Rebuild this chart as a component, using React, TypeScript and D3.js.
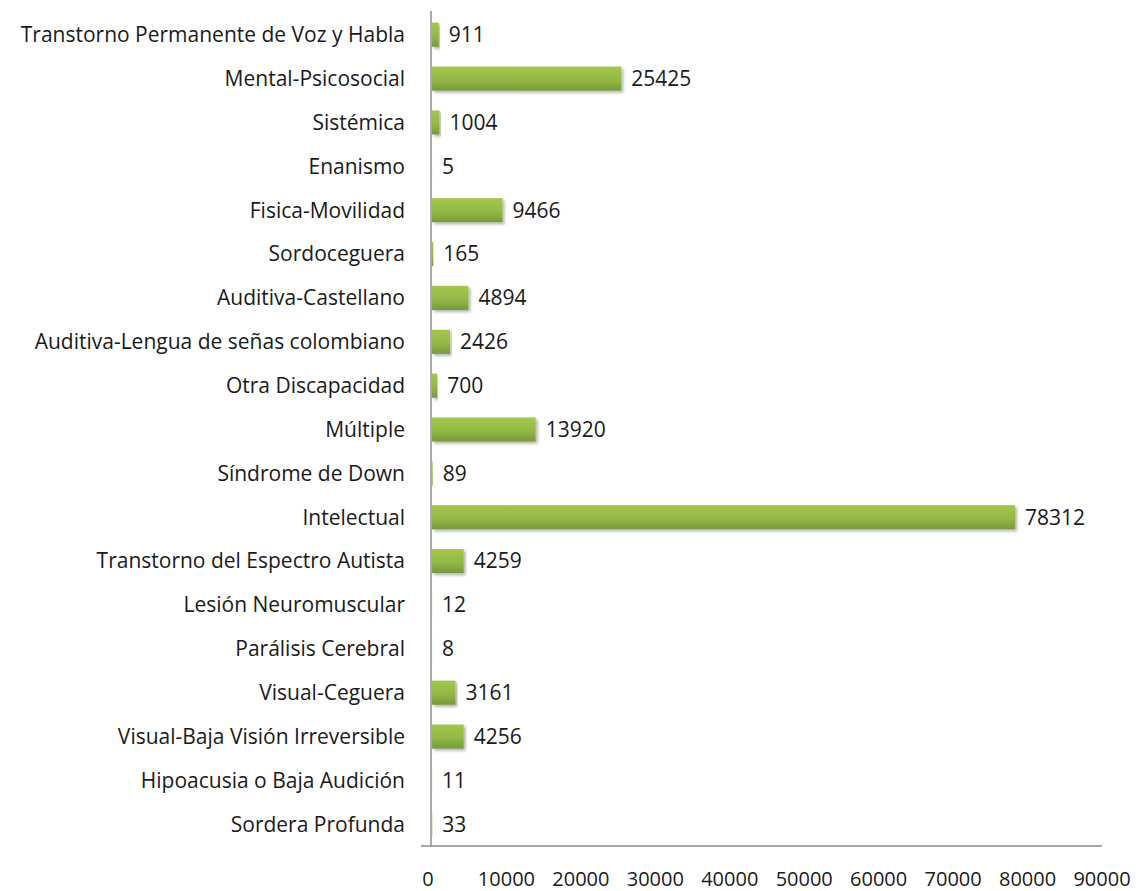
import { useEffect, useRef } from 'react';
import * as d3 from 'd3';

// ── Data (top to bottom as drawn) ──

const categories: string[] = [
  'Transtorno Permanente de Voz y Habla',
  'Mental-Psicosocial',
  'Sistémica',
  'Enanismo',
  'Fisica-Movilidad',
  'Sordoceguera',
  'Auditiva-Castellano',
  'Auditiva-Lengua de señas colombiano',
  'Otra Discapacidad',
  'Múltiple',
  'Síndrome de Down',
  'Intelectual',
  'Transtorno del Espectro Autista',
  'Lesión Neuromuscular',
  'Parálisis Cerebral',
  'Visual-Ceguera',
  'Visual-Baja Visión Irreversible',
  'Hipoacusia o Baja Audición',
  'Sordera Profunda',
];

const values: number[] = [
  911, 25425, 1004, 5, 9466, 165, 4894, 2426, 700, 13920, 89, 78312, 4259, 12, 8, 3161,
  4256, 11, 33,
];

const xTicks: number[] = [0, 10000, 20000, 30000, 40000, 50000, 60000, 70000, 80000, 90000];

// ── Layout ──

const W = 1141;
const H = 891;
const X0 = 432;
const X1 = 1102;
const Y0 = 13;
const Y1 = 846;
const FONT = "'Open Sans', sans-serif";
const FS = '21px';

export default function App() {
  const svgRef = useRef<SVGSVGElement>(null);

  useEffect(() => {
    const svgEl = svgRef.current;
    if (!svgEl) return;
    const svg = d3.select(svgEl);
    svg.selectAll('*').remove();

    const x = d3.scaleLinear().domain([0, 90000]).range([X0, X1]);
    const y = d3
      .scaleBand<string>()
      .domain(categories)
      .range([Y0, Y1])
      .paddingInner(0.45)
      .paddingOuter(0.22);

    const defs = svg.append('defs');
    const grad = defs
      .append('linearGradient')
      .attr('id', 'barGrad')
      .attr('x1', 0)
      .attr('y1', 0)
      .attr('x2', 0)
      .attr('y2', 1);
    grad.append('stop').attr('offset', '0%').attr('stop-color', '#a4c64f');
    grad.append('stop').attr('offset', '55%').attr('stop-color', '#93b947');
    grad.append('stop').attr('offset', '100%').attr('stop-color', '#78993a');

    const shadow = defs
      .append('filter')
      .attr('id', 'shadow')
      .attr('x', '-5%')
      .attr('y', '-30%')
      .attr('width', '115%')
      .attr('height', '180%');
    shadow
      .append('feDropShadow')
      .attr('dx', 2)
      .attr('dy', 2)
      .attr('stdDeviation', 1.5)
      .attr('flood-color', '#000')
      .attr('flood-opacity', 0.3);

    // bars
    const rows = categories.map((c, i) => ({ c, v: values[i] }));
    svg
      .append('g')
      .selectAll('rect')
      .data(rows)
      .enter()
      .append('rect')
      .attr('x', x(0))
      .attr('y', (d) => y(d.c)!)
      .attr('width', (d) => x(d.v) - x(0))
      .attr('height', y.bandwidth())
      .attr('fill', 'url(#barGrad)')
      .attr('filter', 'url(#shadow)');

    // value labels
    svg
      .append('g')
      .selectAll('text')
      .data(rows)
      .enter()
      .append('text')
      .attr('x', (d) => x(d.v) + 10)
      .attr('y', (d) => y(d.c)! + y.bandwidth() / 2)
      .attr('dy', '0.35em')
      .attr('fill', '#1a1a1a')
      .attr('font-family', FONT)
      .attr('font-size', FS)
      .text((d) => String(d.v));

    // category labels
    svg
      .append('g')
      .selectAll('text')
      .data(categories)
      .enter()
      .append('text')
      .attr('x', 405)
      .attr('y', (d) => y(d)! + y.bandwidth() / 2)
      .attr('dy', '0.35em')
      .attr('text-anchor', 'end')
      .attr('fill', '#1a1a1a')
      .attr('font-family', FONT)
      .attr('font-size', FS)
      .text((d) => d);

    // axis lines
    svg
      .append('line')
      .attr('x1', X0 - 1)
      .attr('x2', X0 - 1)
      .attr('y1', Y0 - 2)
      .attr('y2', Y1)
      .attr('stroke', '#8c8c8c')
      .attr('stroke-width', 1.5);
    svg
      .append('line')
      .attr('x1', 421)
      .attr('x2', X1)
      .attr('y1', Y1)
      .attr('y2', Y1)
      .attr('stroke', '#8c8c8c')
      .attr('stroke-width', 1.5);

    // x tick labels
    svg
      .append('g')
      .selectAll('text')
      .data(xTicks)
      .enter()
      .append('text')
      .attr('x', (d) => (d === 0 ? x(d) - 4 : x(d)))
      .attr('y', 886)
      .attr('text-anchor', 'middle')
      .attr('fill', '#1a1a1a')
      .attr('font-family', FONT)
      .attr('font-size', '20px')
      .text((d) => String(d));
  }, []);

  return (
    <svg
      ref={svgRef}
      width={W}
      height={H}
      style={{ display: 'block', position: 'absolute', left: 0, top: 0, background: '#fff' }}
    />
  );
}
